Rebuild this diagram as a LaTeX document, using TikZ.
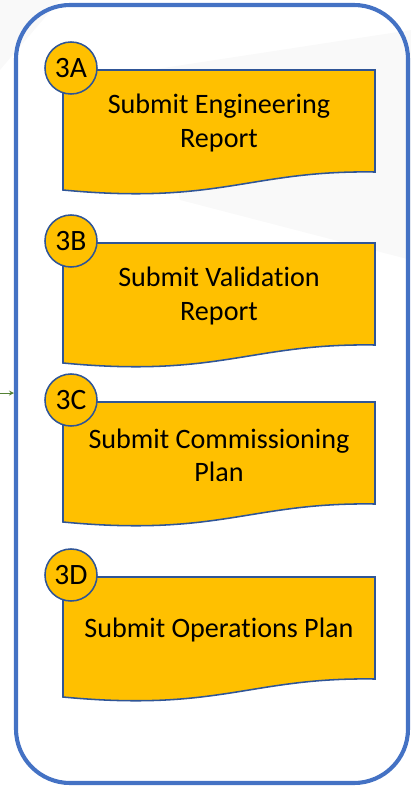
\documentclass[tikz,border=0pt]{standalone}
\usepackage{fontspec}
\setmainfont{Carlito}[Ligatures=NoCommon]
\usepackage{tikz}

\definecolor{frameblue}{HTML}{4472C4}
\definecolor{docgold}{HTML}{FFC000}
\definecolor{docedge}{HTML}{2F5597}
\definecolor{arrowgreen}{HTML}{548235}

\tikzset{
	docshape/.style={fill=docgold,draw=docedge,line width=1.1pt},
	steplabel/.style={circle,fill=docgold,draw=docedge,line width=1.1pt,minimum size=37pt,inner sep=0pt,font=\fontsize{21}{22}\selectfont},
	steptext/.style={align=center,font=\fontsize{20}{23.5}\selectfont}
}

\begin{document}
\begin{tikzpicture}[x=0.025cm,y=-0.025cm]
	\useasboundingbox (0,0) rectangle (411,788);
	\fill [gray!5] (0,0) -- (60,0) -- (0,70) -- cycle;
	\fill [gray!5] (150,70) -- (411,30) -- (411,260) -- (180,200) -- cycle;
	
	\draw [frameblue,line width=2.9pt,rounded corners=1.35cm] (16,5) rectangle (408,783);
	
	\foreach \y/\l/\t in {70/3A/{Submit Engineering\\Report},243/3B/{Submit Validation\\Report},402/3C/{Submit Commissioning\\Plan},577/3D/{Submit Operations Plan}}{
		\draw [docshape] (63,\y) -- (375,\y) -- (375,\y+102)
			.. controls (250,\y+100) and (220,\y+135) .. (63,\y+120) -- cycle;
		\node (t\l) [steptext] at (219,\y+53) {\t};
		\node (c\l) [steplabel] at (71,\y-2) {\l};
	}
	
	\coordinate (in) at (0,393);
	\coordinate (inend) at (14,393);
	\draw [arrowgreen,line width=0.6pt,-stealth] (in) -- (inend);
	
\end{tikzpicture}
\end{document}
